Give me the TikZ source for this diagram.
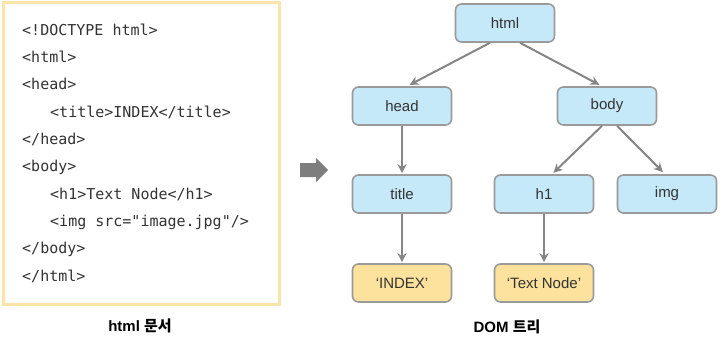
\documentclass[tikz,border=0pt]{standalone}
\usepackage{fontspec}
\setmainfont{Liberation Sans}
\setmonofont{DejaVu Sans Mono}
\newfontfamily\cjk{Noto Sans CJK KR}
\usetikzlibrary{arrows.meta}

\definecolor{boxblue}{HTML}{C6E9FA}
\definecolor{boxyellow}{HTML}{FCE29C}
\definecolor{framegray}{HTML}{9A9A9A}
\definecolor{linkgray}{HTML}{858585}
\definecolor{codeframe}{HTML}{FBE4A8}
\definecolor{inkgray}{HTML}{333333}

\begin{document}
\begin{tikzpicture}[x=1pt, y=-1pt,
  elem/.style={rectangle, rounded corners=6pt, draw=framegray, line width=1.6pt, fill=boxblue, minimum width=99pt, minimum height=38pt, font=\fontsize{15}{18}\selectfont, text=inkgray},
  textnode/.style={elem, fill=boxyellow},
  link/.style={draw=linkgray, line width=2pt, -{Stealth[length=9pt, width=9pt]}},
  codeline/.style={anchor=base west, inner sep=0pt, font=\ttfamily\fontsize{15}{18}\selectfont, text=inkgray},
  caption/.style={font=\bfseries\fontsize{15}{18}\selectfont, text=black}]
  \useasboundingbox (0,0) rectangle (723,345);
  % html source
  \draw[codeframe, line width=3pt, fill=white] (3,3) rectangle (279,304);
  \foreach \txt/\indent [count=\i] in {{<!DOCTYPE html>}/0, {<html>}/0, {<head>}/0, {<title>INDEX</title>}/1, {</head>}/0, {<body>}/0, {<h1>Text Node</h1>}/1, {<img src="image.jpg"/>}/1, {</body>}/0, {</html>}/0}
    \node[codeline] (code\i) at (22+28*\indent, 8+27.3*\i) {\txt};
  \node[caption] (srccap) at (140,326) {html {\cjk 문서}};
  % arrow
  \fill[linkgray!95!black] (300,163) -- (316,163) -- (316,158) -- (328,170) -- (316,182) -- (316,177) -- (300,177) -- cycle;
  % DOM tree
  \node[elem] (html) at (505,23) {html};
  \node[elem] (head) at (402,106) {head};
  \node[elem] (body) at (607,106) {body};
  \node[elem] (title) at (402,194) {title};
  \node[elem] (h1) at (544,194) {h1};
  \node[elem] (img) at (667,194) {img};
  \node[textnode] (index) at (402,283) {‘INDEX’};
  \node[textnode] (textnd) at (544,283) {‘Text Node’};
  \node[caption] (domcap) at (507,327) {DOM {\cjk 트리}};
  \draw[link, shorten >=3pt] ([xshift=-15pt]html.south) -- ([xshift=5pt]head.north);
  \draw[link, shorten >=3pt] ([xshift=15pt]html.south) -- ([xshift=-5pt]body.north);
  \draw[link, shorten >=1pt] (head) -- (title);
  \draw[link, shorten >=2pt] ([xshift=-5pt]body.south) -- ([xshift=8pt]h1.north);
  \draw[link, shorten >=3pt] ([xshift=10pt]body.south) -- ([xshift=-2pt]img.north);
  \draw[link, shorten >=1pt] (title) -- (index);
  \draw[link, shorten >=1pt] (h1) -- (textnd);
\end{tikzpicture}
\end{document}
